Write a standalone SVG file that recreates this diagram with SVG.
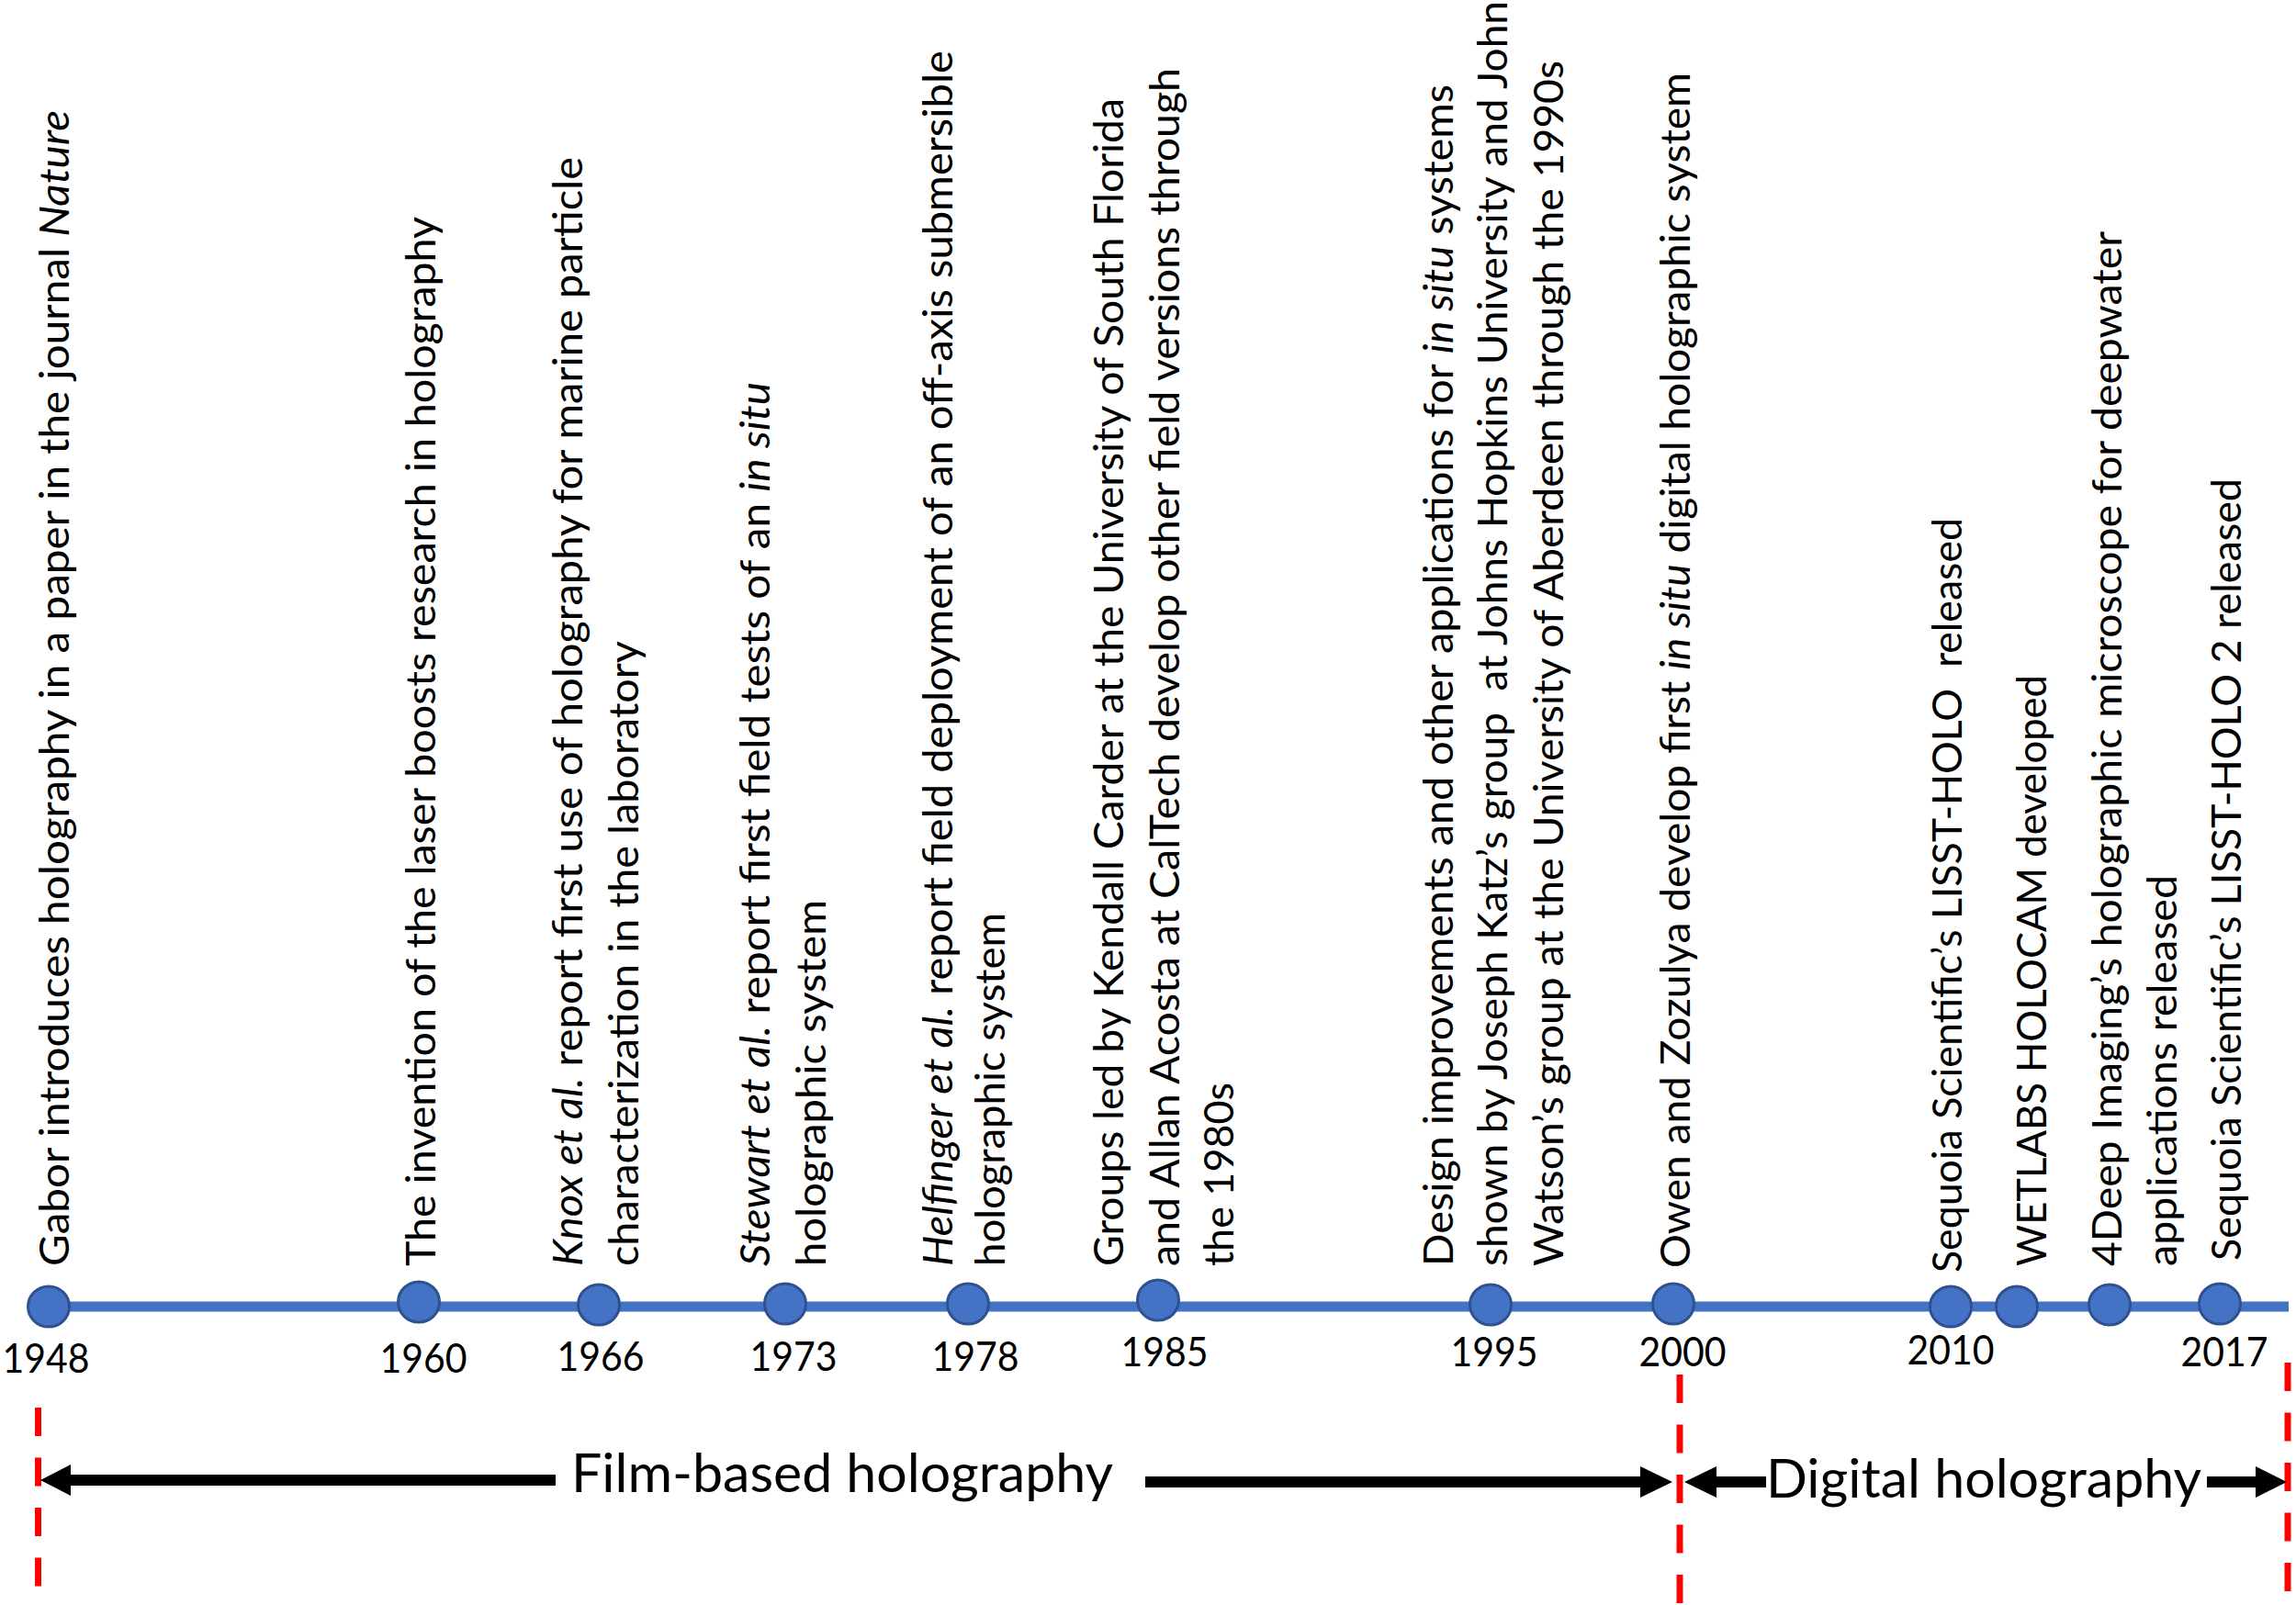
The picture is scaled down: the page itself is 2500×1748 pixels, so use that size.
<svg xmlns="http://www.w3.org/2000/svg" width="2500" height="1748" viewBox="0 0 2500 1748">
<style>
.lbl{font-family:Lato,"Liberation Sans",sans-serif;font-size:44px;fill:#000}
.yr{font-family:Lato,"Liberation Sans",sans-serif;font-size:44px;fill:#000;text-anchor:middle}
.era{font-family:Lato,"Liberation Sans",sans-serif;font-size:58px;fill:#000}
.it{font-style:italic}
.dot{fill:#4472C4;stroke:#2F528F;stroke-width:3}
.axis{stroke:#4472C4;stroke-width:11;fill:none}
.red{stroke:#FF0000;stroke-width:7;stroke-dasharray:31 23.5;fill:none}
.arr{fill:#000}
</style>
<rect x="0" y="0" width="2500" height="1748" fill="#fff"/>
<g id="connectors">
<line class="axis" x1="53" y1="1423" x2="2492" y2="1423"/>
<line class="red" x1="41.5" y1="1533" x2="41.5" y2="1730"/>
<line class="red" x1="1829" y1="1497" x2="1829" y2="1746"/>
<line class="red" x1="2491" y1="1484" x2="2491" y2="1733"/>
<polygon class="arr" points="44,1612 77,1595 77,1606 605,1606 605,1618 77,1618 77,1629"/>
<polygon class="arr" points="1247,1608 1786,1608 1786,1597 1821,1614 1786,1631 1786,1620 1247,1620"/>
<polygon class="arr" points="1834,1614 1869,1597 1869,1608 1923,1608 1923,1620 1869,1620 1869,1631"/>
<polygon class="arr" points="2403,1608 2456,1608 2456,1597 2490,1614 2456,1631 2456,1620 2403,1620"/>
</g>
<g id="eras">
<text class="era" x="622" y="1625" textLength="590" lengthAdjust="spacingAndGlyphs">Film-based holography</text>
<text class="era" x="1923" y="1631" textLength="474" lengthAdjust="spacingAndGlyphs">Digital holography</text>
</g>
<g id="n1948">
<ellipse class="dot" cx="53" cy="1423" rx="22.5" ry="22"/>
<text class="yr" x="50" y="1495" textLength="95" lengthAdjust="spacingAndGlyphs">1948</text>
<text class="lbl" transform="translate(75 1379) rotate(-90)" textLength="1259" lengthAdjust="spacingAndGlyphs">Gabor introduces holography in a paper in the journal <tspan class="it">Nature</tspan></text>
</g>
<g id="n1960">
<ellipse class="dot" cx="456" cy="1418" rx="22.5" ry="22"/>
<text class="yr" x="461" y="1495" textLength="95" lengthAdjust="spacingAndGlyphs">1960</text>
<text class="lbl" transform="translate(474 1379) rotate(-90)" textLength="1143" lengthAdjust="spacingAndGlyphs">The invention of the laser boosts research in holography</text>
</g>
<g id="n1966">
<ellipse class="dot" cx="652" cy="1421" rx="22.5" ry="22"/>
<text class="yr" x="654" y="1493" textLength="95" lengthAdjust="spacingAndGlyphs">1966</text>
<text class="lbl" transform="translate(634 1379) rotate(-90)" textLength="1208" lengthAdjust="spacingAndGlyphs"><tspan class="it">Knox et al.</tspan> report first use of holography for marine particle</text>
<text class="lbl" transform="translate(695 1379) rotate(-90)" textLength="681" lengthAdjust="spacingAndGlyphs">characterization in the laboratory</text>
</g>
<g id="n1973">
<ellipse class="dot" cx="855" cy="1420" rx="22.5" ry="22"/>
<text class="yr" x="864" y="1493" textLength="95" lengthAdjust="spacingAndGlyphs">1973</text>
<text class="lbl" transform="translate(838 1379) rotate(-90)" textLength="963" lengthAdjust="spacingAndGlyphs"><tspan class="it">Stewart et al.</tspan> report first field tests of an <tspan class="it">in situ</tspan></text>
<text class="lbl" transform="translate(899 1379) rotate(-90)" textLength="399" lengthAdjust="spacingAndGlyphs">holographic system</text>
</g>
<g id="n1978">
<ellipse class="dot" cx="1054" cy="1420" rx="22.5" ry="22"/>
<text class="yr" x="1062" y="1493" textLength="95" lengthAdjust="spacingAndGlyphs">1978</text>
<text class="lbl" transform="translate(1037 1379) rotate(-90)" textLength="1324" lengthAdjust="spacingAndGlyphs"><tspan class="it">Helfinger et al.</tspan> report field deployment of an off-axis submersible</text>
<text class="lbl" transform="translate(1094 1379) rotate(-90)" textLength="385" lengthAdjust="spacingAndGlyphs">holographic system</text>
</g>
<g id="n1985">
<ellipse class="dot" cx="1261" cy="1416" rx="22.5" ry="22"/>
<text class="yr" x="1268" y="1488" textLength="95" lengthAdjust="spacingAndGlyphs">1985</text>
<text class="lbl" transform="translate(1223 1379) rotate(-90)" textLength="1272" lengthAdjust="spacingAndGlyphs">Groups led by Kendall Carder at the University of South Florida</text>
<text class="lbl" transform="translate(1284 1379) rotate(-90)" textLength="1305" lengthAdjust="spacingAndGlyphs">and Allan Acosta at CalTech develop other field versions through</text>
<text class="lbl" transform="translate(1343 1379) rotate(-90)" textLength="200" lengthAdjust="spacingAndGlyphs">the 1980s</text>
</g>
<g id="n1995">
<ellipse class="dot" cx="1623" cy="1421" rx="22.5" ry="22"/>
<text class="yr" x="1627" y="1488" textLength="95" lengthAdjust="spacingAndGlyphs">1995</text>
<text class="lbl" transform="translate(1582 1379) rotate(-90)" textLength="1287" lengthAdjust="spacingAndGlyphs">Design improvements and other applications for <tspan class="it">in situ</tspan> systems</text>
<text class="lbl" xml:space="preserve" transform="translate(1641 1379) rotate(-90)" textLength="1378" lengthAdjust="spacingAndGlyphs">shown by Joseph Katz’s group  at Johns Hopkins University and John</text>
<text class="lbl" transform="translate(1702 1379) rotate(-90)" textLength="1313" lengthAdjust="spacingAndGlyphs">Watson’s group at the University of Aberdeen through the 1990s</text>
</g>
<g id="n2000">
<ellipse class="dot" cx="1822" cy="1420" rx="22.5" ry="22"/>
<text class="yr" x="1832" y="1488" textLength="95" lengthAdjust="spacingAndGlyphs">2000</text>
<text class="lbl" transform="translate(1840 1381) rotate(-90)" textLength="1302" lengthAdjust="spacingAndGlyphs">Owen and Zozulya develop first <tspan class="it">in situ</tspan> digital holographic system</text>
</g>
<g id="n2010">
<ellipse class="dot" cx="2124" cy="1423" rx="22.5" ry="22"/>
<text class="yr" x="2124" y="1486" textLength="95" lengthAdjust="spacingAndGlyphs">2010</text>
<text class="lbl" xml:space="preserve" transform="translate(2136 1386) rotate(-90)" textLength="822" lengthAdjust="spacingAndGlyphs">Sequoia Scientific’s LISST-HOLO  released</text>
</g>
<g id="n-wetlabs">
<ellipse class="dot" cx="2196" cy="1423" rx="22.5" ry="22"/>
<text class="lbl" transform="translate(2228 1379) rotate(-90)" textLength="644" lengthAdjust="spacingAndGlyphs">WETLABS HOLOCAM developed</text>
</g>
<g id="n-4deep">
<ellipse class="dot" cx="2297" cy="1421" rx="22.5" ry="22"/>
<text class="lbl" transform="translate(2310 1379) rotate(-90)" textLength="1127" lengthAdjust="spacingAndGlyphs">4Deep Imaging’s holographic microscope for deepwater</text>
<text class="lbl" transform="translate(2370 1379) rotate(-90)" textLength="426" lengthAdjust="spacingAndGlyphs">applications released</text>
</g>
<g id="n2017">
<ellipse class="dot" cx="2417" cy="1420" rx="22.5" ry="22"/>
<text class="yr" x="2422" y="1488" textLength="95" lengthAdjust="spacingAndGlyphs">2017</text>
<text class="lbl" transform="translate(2440 1373) rotate(-90)" textLength="852" lengthAdjust="spacingAndGlyphs">Sequoia Scientific’s LISST-HOLO 2 released</text>
</g>
</svg>
